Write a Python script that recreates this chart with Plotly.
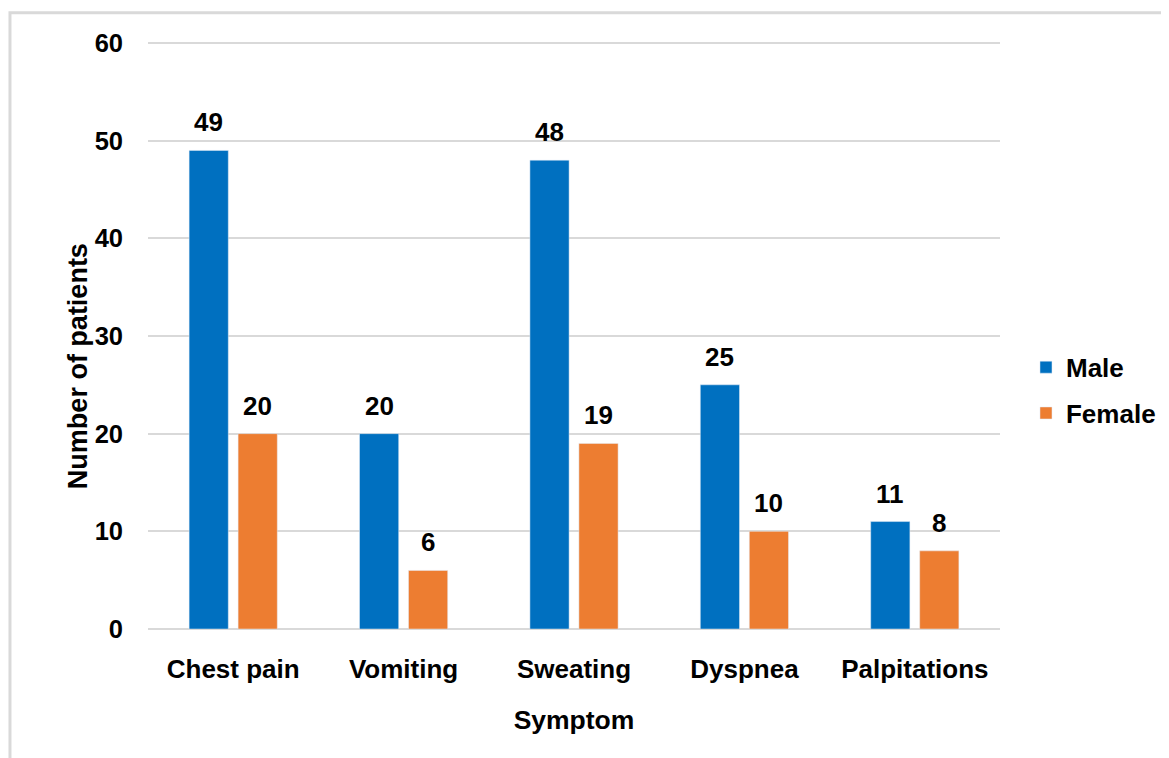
import plotly.graph_objects as go

symptoms = ["Chest pain", "Vomiting", "Sweating", "Dyspnea", "Palpitations"]
male = [49, 20, 48, 25, 11]
female = [20, 6, 19, 10, 8]
y_ticks = [0, 10, 20, 30, 40, 50, 60]

MALE_COLOR = "#0070C0"
FEMALE_COLOR = "#ED7D31"
FONT = "Liberation Sans, Arial, sans-serif"
TXT = "#000000"

fig = go.Figure()
fig.add_trace(go.Bar(name="Male", x=symptoms, y=male, marker_color=MALE_COLOR, legendgroup="m"))
fig.add_trace(go.Bar(name="Female", x=symptoms, y=female, marker_color=FEMALE_COLOR, legendgroup="f"))

annotations = []
for series, shift in ((male, -24.5), (female, 24.5)):
    for cat, val in zip(symptoms, series):
        annotations.append(dict(
            x=cat, y=val, xref="x", yref="y", text=str(val),
            showarrow=False, xshift=shift, yshift=11, yanchor="bottom",
            font=dict(family=FONT, size=26, color=TXT, weight="bold"),
        ))

# y-axis title (placed slightly below the plot centre, as in the reference)
annotations.append(dict(
    x=-0.0822, y=0.447, xref="paper", yref="paper", text="Number of patients",
    textangle=-90, showarrow=False, xanchor="center", yanchor="middle",
    font=dict(family=FONT, size=27, color=TXT, weight="bold"),
))

# page body has an 8px margin, so the figure is sized/placed to compensate
fig.update_layout(
    barmode="group",
    bargap=0.425,
    bargroupgap=0.2,
    width=1161,
    height=750,
    margin=dict(l=140, r=169, t=33, b=129, autoexpand=False),
    paper_bgcolor="white",
    plot_bgcolor="white",
    font=dict(family=FONT, size=26, color=TXT, weight="bold"),
    annotations=annotations,
    legend=dict(
        x=1.0305, y=0.406, xanchor="left", yanchor="middle",
        font=dict(family=FONT, size=26, color=TXT, weight="bold"),
        bgcolor="rgba(0,0,0,0)", itemwidth=30,
        traceorder="grouped", tracegroupgap=9,
    ),
    shapes=[dict(
        type="rect", xref="paper", yref="paper",
        x0=-0.162, x1=1.4, y0=-0.5, y1=1.048,
        line=dict(color="#d9d9d9", width=3), fillcolor="rgba(0,0,0,0)", layer="below",
    )],
)

fig.update_xaxes(
    automargin=False,
    title=dict(text="Symptom", font=dict(family=FONT, size=26.5, color=TXT, weight="bold"), standoff=27),
    tickfont=dict(family=FONT, size=26, color=TXT, weight="bold"),
    showline=False, ticks="", ticklabelstandoff=22,
)
fig.update_yaxes(
    automargin=False,
    range=[0, 60.2], tickvals=y_ticks,
    tickfont=dict(family=FONT, size=25.5, color=TXT, weight="bold"),
    showgrid=True, gridcolor="#d9d9d9", gridwidth=2,
    zeroline=True, zerolinecolor="#d9d9d9", zerolinewidth=2,
    showline=False, ticks="", ticklabelstandoff=24,
)

fig.write_html("out.html")
